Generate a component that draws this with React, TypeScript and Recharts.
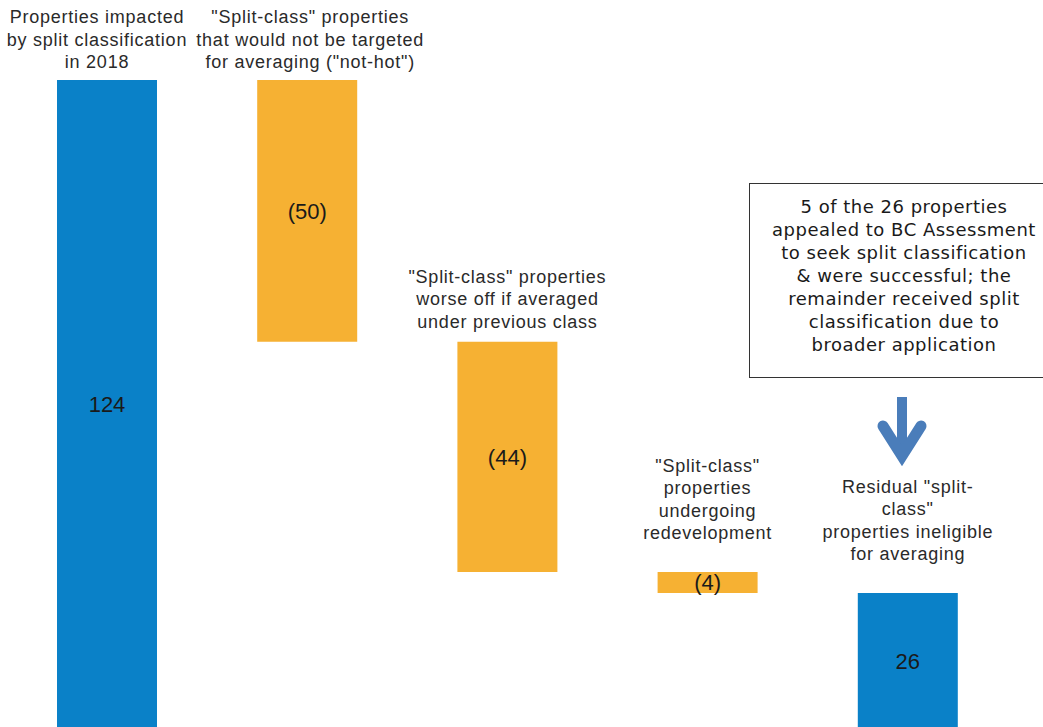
import { BarChart, Bar, XAxis, YAxis, Cell, LabelList } from "recharts";

// waterfall steps, left to right
const titles = [
  ["Properties impacted", "by split classification", "in 2018"],
  ['"Split-class" properties', "that would not be targeted", 'for averaging ("not-hot")'],
  ['"Split-class" properties', "worse off if averaged", "under previous class"],
  ['"Split-class"', "properties", "undergoing", "redevelopment"],
  ['Residual "split-', 'class"', "properties ineligible", "for averaging"],
];
const values = [124, -50, -44, -4, 26];
const kinds = ["total", "delta", "delta", "delta", "total"];

const noteLines = [
  "5 of the 26 properties",
  "appealed to BC Assessment",
  "to seek split classification",
  "& were successful; the",
  "remainder received split",
  "classification due to",
  "broader application",
];

const BLUE = "#0A81C8";
const ORANGE = "#F6B133";

const fmt = (v: number) => (v < 0 ? `(${Math.abs(v)})` : `${v}`);

// running total -> invisible base + visible segment
let running = 0;
const data = values.map((v, i) => {
  let base = 0;
  if (kinds[i] === "total") {
    running = v;
  } else {
    running += v;
    base = running;
  }
  return {
    name: `s${i}`,
    title: titles[i].join("\n"),
    base,
    amount: Math.abs(v),
    label: fmt(v),
    kind: kinds[i],
  };
});

const titleGap = [12, 12, 14, 33, 33];
const titleDx = [-10, 3, 0, 0, 0];

const TitleLabel = (props: any) => {
  const { x, y, width, value, index } = props;
  const lines = String(value).split("\n");
  const cx = x + width / 2 + (titleDx[index] ?? 0);
  const lastBase = y - (titleGap[index] ?? 12);
  const lh = 22.3;
  return (
    <text
      textAnchor="middle"
      fontFamily="Liberation Sans, Arial, sans-serif"
      fontSize={18}
      letterSpacing={0.75}
      fill="#2a2a2a"
    >
      {lines.map((ln, k) => (
        <tspan key={k} x={cx} y={lastBase - (lines.length - 1 - k) * lh}>
          {ln}
        </tspan>
      ))}
    </text>
  );
};

export default function App() {
  return (
    <div
      style={{
        position: "absolute",
        left: 0,
        top: 0,
        width: 1043,
        height: 727,
        overflow: "hidden",
        background: "#fff",
      }}
    >
      <BarChart
        width={1043}
        height={740}
        data={data}
        margin={{ top: 80, right: 35, bottom: 11, left: 7 }}
      >
        <XAxis dataKey="name" hide />
        <YAxis hide domain={[0, 124]} />
        <Bar dataKey="base" stackId="w" fill="transparent" barSize={100} isAnimationActive={false} />
        <Bar dataKey="amount" stackId="w" barSize={100} isAnimationActive={false}>
          {data.map((d, i) => (
            <Cell key={i} fill={d.kind === "total" ? BLUE : ORANGE} />
          ))}
          <LabelList
            dataKey="label"
            position="center"
            fontFamily="Liberation Sans, Arial, sans-serif"
            fontSize={22}
            fill="#1a1a1a"
          />
          <LabelList dataKey="title" content={<TitleLabel />} />
        </Bar>
      </BarChart>

      <div
        style={{
          position: "absolute",
          left: 749,
          top: 183,
          width: 310,
          height: 195,
          boxSizing: "border-box",
          border: "1.5px solid #333",
          background: "#fff",
          paddingTop: 11,
          fontFamily: "DejaVu Sans, Verdana, sans-serif",
          fontSize: 18,
          letterSpacing: 0.5,
          lineHeight: "23px",
          textAlign: "center",
          color: "#1a1a1a",
          whiteSpace: "nowrap",
        }}
      >
        {noteLines.map((l, i) => (
          <div key={i}>{l}</div>
        ))}
      </div>

      <svg
        width={1043}
        height={727}
        style={{ position: "absolute", left: 0, top: 0, pointerEvents: "none" }}
      >
        <rect x={897} y={397} width={10} height={60} fill="#4A7DBA" />
        <polyline
          points="883,426 902,456 921,426"
          fill="none"
          stroke="#4A7DBA"
          strokeWidth={11}
          strokeLinecap="round"
          strokeLinejoin="miter"
          strokeMiterlimit={6}
        />
      </svg>
    </div>
  );
}
